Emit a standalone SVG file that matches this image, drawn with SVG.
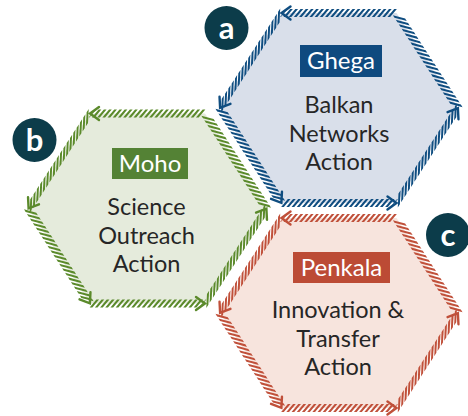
<svg xmlns="http://www.w3.org/2000/svg" xmlns:xlink="http://www.w3.org/1999/xlink" width="468" height="416" viewBox="0 0 468 416">
<style>
.hz{fill:none;stroke:currentColor;stroke-width:8;stroke-dasharray:2.7 2.5}
.dl{fill:none;stroke:currentColor;stroke-width:7;stroke-dasharray:3.9 2.2}
.dr{fill:none;stroke:currentColor;stroke-width:8.5;stroke-dasharray:3 2.4}
.ah{fill:none;stroke:currentColor;stroke-width:2.4;stroke-linecap:round;stroke-linejoin:miter}
.lbl{font-family:Lato,"Liberation Sans",sans-serif;font-size:24px;fill:#ffffff;text-anchor:middle}
.body{font-family:Lato,"Liberation Sans",sans-serif;font-size:23.5px;fill:#262626;text-anchor:middle}
.badge circle{fill:#0c3c4a}
.badge text{font-family:Lato,"Liberation Sans",sans-serif;font-weight:bold;font-size:31px;fill:#ffffff;text-anchor:middle}
</style>
<defs>
<g id="hexborder">
<g transform="translate(54.5,-95) rotate(180)"><line class="hz" transform="skewX(-40)" x1="0" y1="0" x2="110" y2="0"/><polyline class="ah" points="103,-6.5 112,0 103,6.5"/></g>
<g transform="translate(-59.13,-92.48) rotate(122.91)"><line class="dl" transform="skewX(-60)" x1="0" y1="0" x2="108" y2="0"/><polyline class="ah" points="101,-6.5 110,0 101,6.5"/></g>
<g transform="translate(-117.37,2.52) rotate(57.09)"><line class="dr" transform="skewX(-48)" x1="0" y1="0" x2="108" y2="0"/><polyline class="ah" points="101,-6.5 110,0 101,6.5"/></g>
<g transform="translate(-54.5,95)"><line class="hz" transform="skewX(-40)" x1="0" y1="0" x2="110" y2="0"/><polyline class="ah" points="103,-6.5 112,0 103,6.5"/></g>
<g transform="translate(59.13,92.48) rotate(-57.09)"><line class="dl" transform="skewX(-60)" x1="0" y1="0" x2="108" y2="0"/><polyline class="ah" points="101,-6.5 110,0 101,6.5"/></g>
<g transform="translate(117.37,-2.52) rotate(-122.91)"><line class="dr" transform="skewX(-48)" x1="0" y1="0" x2="108" y2="0"/></g>
</g>
<polygon id="hexshape" points="-57.5,-95 57.5,-95 119,0 57.5,95 -57.5,95 -119,0"/>
</defs>
<g id="connectors"/>
<g id="hex-a" transform="translate(339,108)" color="#0f4d80">
<use xlink:href="#hexshape" fill="#d9dfea"/>
<use xlink:href="#hexborder"/>
<rect x="-39" y="-63" width="82" height="32" fill="#0f4a7f"/>
<text class="lbl" x="2" y="-39.5">Ghega</text>
<text class="body" x="0" y="5">Balkan</text>
<text class="body" x="0" y="34">Networks</text>
<text class="body" x="0" y="62">Action</text>
</g>
<g id="hex-b" transform="translate(147.5,208.5)" color="#5b8a2b">
<use xlink:href="#hexshape" fill="#e5ebdc"/>
<use xlink:href="#hexborder"/>
<rect x="-35.5" y="-60.5" width="76" height="31" fill="#548235"/>
<text class="lbl" x="2.5" y="-36.5">Moho</text>
<text class="body" x="-1" y="6.5">Science</text>
<text class="body" x="-1" y="35">Outreach</text>
<text class="body" x="-1" y="63.5">Action</text>
</g>
<g id="hex-c" transform="translate(339,313)" color="#c0503a">
<use xlink:href="#hexshape" fill="#f7e4dd"/>
<use xlink:href="#hexborder"/>
<rect x="-46" y="-61" width="97" height="31" fill="#bc4b35"/>
<text class="lbl" x="2.5" y="-37.5">Penkala</text>
<text class="body" x="-1" y="5">Innovation &amp;</text>
<text class="body" x="-1" y="34">Transfer</text>
<text class="body" x="-1" y="62">Action</text>
</g>
<g id="badge-a" class="badge"><circle cx="226.5" cy="28" r="22"/><text x="226.5" y="38.5">a</text></g>
<g id="badge-b" class="badge"><circle cx="34.5" cy="140" r="22"/><text x="34.5" y="151">b</text></g>
<g id="badge-c" class="badge"><circle cx="448" cy="235" r="22"/><text x="448" y="245.5">c</text></g>
</svg>
